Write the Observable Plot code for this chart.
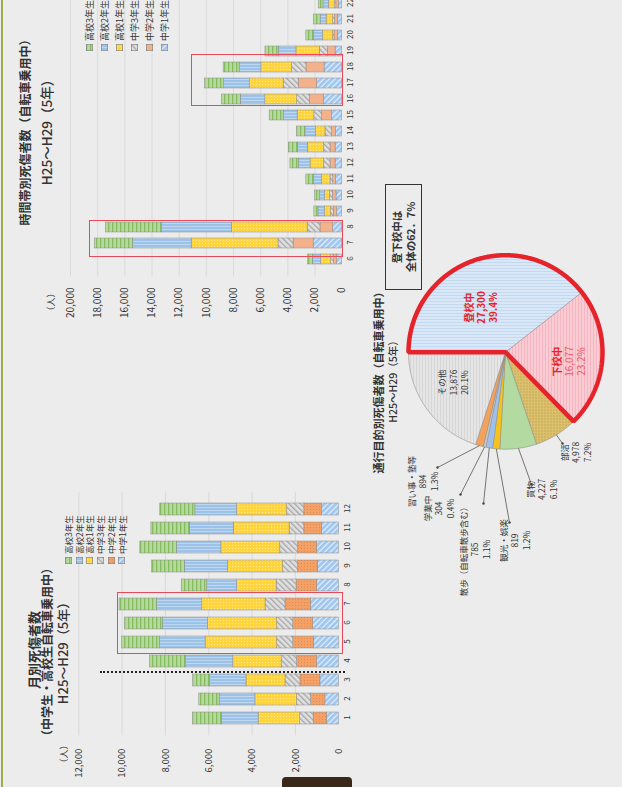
<!DOCTYPE html>
<html>
<head>
<meta charset="utf-8">
<script src="https://cdn.jsdelivr.net/npm/d3@7"></script>
<script src="https://cdn.jsdelivr.net/npm/@observablehq/plot@0.6"></script>
<style>
  html, body { margin: 0; padding: 0; width: 622px; height: 787px; overflow: hidden; background: #ebebeb; }
  #page {
    position: absolute; left: 0; top: 0; width: 787px; height: 622px;
    transform-origin: 0 0; transform: translate(0, 787px) rotate(-90deg);
    background: #ececec; font-family: "Noto Sans CJK JP", "Noto Sans", sans-serif; color: #333;
  }
  #page svg { position: absolute; overflow: visible; }
  .t { position: absolute; white-space: nowrap; transform: translate(-50%, -50%); line-height: 1; }
  .legend { position: absolute; font-size: 8.5px; line-height: 1; }
  .legend div { display: flex; align-items: center; height: 10.7px; white-space: nowrap; }
  .legend svg { position: static !important; margin-right: 3px; }
  .box { position: absolute; border: 1.6px solid #e84a5a; box-sizing: border-box; }
</style>
</head>
<body>
<svg width="0" height="0" style="position:absolute">
  <defs>
    <!-- bar fills -->
    <pattern id="hs3" width="4" height="4" patternUnits="userSpaceOnUse">
      <rect width="4" height="4" fill="#b6da9e"/><rect width="4" height="1.3" fill="#85bc60"/>
    </pattern>
    <pattern id="hs2" width="3" height="3" patternUnits="userSpaceOnUse">
      <rect width="3" height="3" fill="#9cc2e8"/><rect width="1" height="3" fill="#bed7f1"/>
    </pattern>
    <pattern id="hs1" width="3" height="3" patternUnits="userSpaceOnUse">
      <rect width="3" height="3" fill="#ffd33a"/><circle cx="1.5" cy="1.5" r="0.7" fill="#ffe98c"/>
    </pattern>
    <pattern id="jh3" width="4" height="4" patternUnits="userSpaceOnUse" patternTransform="rotate(45)">
      <rect width="4" height="4" fill="#e0e0e0"/><rect width="1.3" height="4" fill="#a6a6a6"/>
    </pattern>
    <pattern id="jh2" width="3" height="3" patternUnits="userSpaceOnUse">
      <rect width="3" height="3" fill="#f3a166"/><circle cx="1.5" cy="1.5" r="0.6" fill="#e2864a"/>
    </pattern>
    <pattern id="jh2b" width="3" height="3" patternUnits="userSpaceOnUse">
      <rect width="3" height="3" fill="#f4b28c"/>
    </pattern>
    <pattern id="jh1" width="4" height="4" patternUnits="userSpaceOnUse" patternTransform="rotate(-45)">
      <rect width="4" height="4" fill="#9fc6ee"/><rect width="1.2" height="4" fill="#e4effb"/>
    </pattern>
    <!-- pie fills -->
    <pattern id="pUp" width="3" height="3" patternUnits="userSpaceOnUse">
      <rect width="3" height="3" fill="#c3d9f0"/><rect width="1" height="3" fill="#eef4fb"/>
    </pattern>
    <pattern id="pDown" width="3" height="3" patternUnits="userSpaceOnUse">
      <rect width="3" height="3" fill="#f6b4c0"/><rect width="3" height="1" fill="#fde3e8"/>
    </pattern>
    <pattern id="pClub" width="3" height="3" patternUnits="userSpaceOnUse">
      <rect width="3" height="3" fill="#dcc170"/><circle cx="1.5" cy="1.5" r="0.7" fill="#b8983e"/>
    </pattern>
    <pattern id="pOther" width="3" height="3" patternUnits="userSpaceOnUse">
      <rect width="3" height="3" fill="#d6d6d6"/><rect width="3" height="1" fill="#f4f4f4"/>
    </pattern>
  </defs>
</svg>
<div id="page"></div>
<script>
const FONT = '"Noto Sans CJK JP", "Noto Sans", sans-serif';

// ---- 月別死傷者数（中学生・高校生 自転車乗用中） ----
const months = [1, 2, 3, 4, 5, 6, 7, 8, 9, 10, 11, 12];
const grades = ["中学1年生", "中学2年生", "中学3年生", "高校1年生", "高校2年生", "高校3年生"];
const monthJH1 = [540, 620, 850, 1000, 1150, 1180, 1280, 1000, 970, 1000, 770, 770];
const monthJH2 = [620, 660, 920, 920, 950, 920, 1180, 950, 910, 880, 820, 820];
const monthJH3 = [620, 650, 690, 720, 740, 740, 920, 920, 690, 820, 680, 800];
const monthHS1 = [1920, 1920, 1800, 2230, 3310, 3200, 2920, 1820, 2540, 2720, 2580, 2310];
const monthHS2 = [1690, 1650, 1690, 2200, 2110, 2080, 2080, 1380, 2000, 2050, 2030, 1920];
const monthHS3 = [1340, 940, 770, 1650, 1740, 1750, 1740, 1180, 1510, 1690, 1770, 1620];
const monthTicks = [0, 2000, 4000, 6000, 8000, 10000, 12000];

// ---- 時間帯別死傷者数（自転車乗用中） ----
const hours = [6, 7, 8, 9, 10, 11, 12, 13, 14, 15, 16, 17, 18, 19, 20, 21, 22];
const hourJH1 = [370, 2100, 660, 370, 420, 440, 490, 490, 440, 740, 1350, 1850, 1300, 490, 320, 320, 250];
const hourJH2 = [220, 1480, 940, 250, 260, 220, 370, 370, 300, 740, 1030, 1350, 1330, 570, 250, 220, 180];
const hourJH3 = [220, 1110, 940, 200, 220, 200, 490, 490, 490, 570, 940, 1110, 1060, 590, 100, 120, 100];
const hourHS1 = [740, 6390, 5580, 450, 370, 620, 980, 1180, 690, 1230, 2340, 2460, 2260, 1720, 740, 490, 450];
const hourHS2 = [590, 4310, 5170, 480, 370, 620, 860, 740, 790, 1030, 1800, 1920, 1600, 1300, 690, 440, 400];
const hourHS3 = [370, 2830, 4110, 300, 370, 540, 620, 660, 620, 1030, 1400, 1400, 1180, 980, 540, 490, 350];
const hourTicks = [0, 2000, 4000, 6000, 8000, 10000, 12000, 14000, 16000, 18000, 20000];

// ---- 通行目的別死傷者数（自転車乗用中） ----
const purposes = ["登校中", "下校中", "部活", "買物", "観光・娯楽", "散歩（自転車散歩含む）", "学業中", "習い事・塾等", "その他"];
const purposeCounts = [27300, 16077, 4978, 4227, 819, 785, 304, 894, 13876];
const purposeShares = [39.4, 23.2, 7.2, 6.1, 1.2, 1.1, 0.4, 1.3, 20.1];

// fills per series
const monthFills = ["url(#jh1)", "url(#jh2)", "url(#jh3)", "url(#hs1)", "url(#hs2)", "url(#hs3)"];
const hourFills = ["url(#jh1)", "url(#jh2b)", "url(#jh3)", "url(#hs1)", "url(#hs2)", "url(#hs3)"];
const purposeFills = ["url(#pUp)", "url(#pDown)", "url(#pClub)", "#b3daa0", "#f6c21c", "#9ec0ea", "#c9c9c9", "#f4a15c", "url(#pOther)"];

const page = document.getElementById("page");

function place(node, left, top) {
  node.style.left = left + "px";
  node.style.top = top + "px";
  page.appendChild(node);
  return node;
}
function text(str, cx, cy, size, weight, color) {
  const d = document.createElement("div");
  d.className = "t";
  d.textContent = str;
  d.style.fontSize = size + "px";
  d.style.fontWeight = weight || 400;
  if (color) d.style.color = color;
  return place(d, cx, cy);
}
function legend(left, top, fills, rowH, size) {
  const wrap = document.createElement("div");
  wrap.className = "legend";
  wrap.style.fontSize = size + "px";
  grades.map((g, i) => ({g, f: fills[i]})).reverse().forEach(({g, f}) => {
    const row = document.createElement("div");
    row.style.height = rowH + "px";
    row.innerHTML = `<svg width="7" height="7"><rect x="0.3" y="0.3" width="6.4" height="6.4" fill="${f}" stroke="#7a7a7a" stroke-width="0.6"/></svg><span>${g}</span>`;
    wrap.appendChild(row);
  });
  return place(wrap, left, top);
}
function box(l, t, w, h) {
  const d = document.createElement("div");
  d.className = "box";
  d.style.width = w + "px";
  d.style.height = h + "px";
  return place(d, l, t);
}

const toRows = (keys, series) =>
  series.flatMap((vals, gi) => keys.map((k, i) => ({key: k, grade: grades[gi], value: vals[i]})));

// page frame details
const edge = document.createElement("div");
edge.style.cssText = "position:absolute;width:787px;height:2px;background:#9aae4c;";
place(edge, 0, 1);
const tab = document.createElement("div");
tab.style.cssText = "position:absolute;width:10px;height:70px;background:#3a2919;border-radius:0 4px 4px 0;";
place(tab, 0, 282);

// ---------- monthly chart ----------
const monthRows = toRows(months, [monthJH1, monthJH2, monthJH3, monthHS1, monthHS2, monthHS3]);
const monthly = Plot.plot({
  width: 310, height: 362,
  marginLeft: 51.7, marginRight: 14.7, marginTop: 78.3, marginBottom: 23.7,
  style: {background: "transparent", fontFamily: FONT, color: "#333", overflow: "visible"},
  x: {type: "band", domain: months, padding: 0.35},
  y: {domain: [0, 12000]},
  color: {domain: grades, range: monthFills},
  marks: [
    Plot.ruleY(monthTicks.slice(1), {stroke: "#d4d4d4", strokeWidth: 0.8}),
    Plot.barY(monthRows, {x: "key", y: "value", fill: "grade", order: grades, stroke: "#8a8a8a", strokeWidth: 0.5}),
    Plot.axisY({ticks: monthTicks, tickFormat: d3.format(","), tickSize: 0, tickPadding: 14, fontSize: 9.5, label: null}),
    Plot.axisX({tickSize: 0, tickPadding: 5.9, fontSize: 8, label: null})
  ]
});
place(monthly, 0, 0);
text("（人）", 33, 63, 9);
text("月別死傷者数", 137, 33, 13, 700);
text("（中学生・高校生自転車乗用中）", 135, 47, 12, 700);
text("H25～H29（5年）", 137, 62, 13, 500);
legend(223, 63, monthFills, 10.7, 8.5);
box(133, 117, 62, 226);
const split = document.createElement("div");
split.style.cssText = "position:absolute;width:0;height:245px;border-left:2.5px dotted #222;";
place(split, 113.5, 100);

// ---------- hourly chart ----------
const hourRows = toRows(hours, [hourJH1, hourJH2, hourJH3, hourHS1, hourHS2, hourHS3]);
const hourly = Plot.plot({
  width: 368, height: 362,
  marginLeft: 70.7, marginRight: 5.8, marginTop: 70, marginBottom: 20.3,
  style: {background: "transparent", fontFamily: FONT, color: "#333", overflow: "visible"},
  x: {type: "band", domain: hours, padding: 0.35},
  y: {domain: [0, 20000]},
  color: {domain: grades, range: hourFills},
  marks: [
    Plot.ruleY(hourTicks.slice(1), {stroke: "#d6d6d6", strokeWidth: 0.8}),
    Plot.barY(hourRows, {x: "key", y: "value", fill: "grade", order: grades, stroke: "#8a8a8a", strokeWidth: 0.5}),
    Plot.axisY({ticks: hourTicks, tickFormat: d3.format(","), tickSize: 0, tickPadding: 11.7, fontSize: 10, label: null}),
    Plot.axisX({tickSize: 0, tickPadding: 5.5, fontSize: 8, label: null})
  ]
});
place(hourly, 440, 0);
text("（人）", 485, 50, 9);
text("時間帯別死傷者数（自転車乗用中）", 657.5, 25, 12, 700);
text("H25～H29（5年）", 658, 47, 13.5, 500);
legend(736, 82, hourFills, 15, 9);
box(530, 89, 37, 254);
box(681, 191, 52, 152);

// ---------- purpose pie ----------
const R = 97, CX = 434.3, CY = 505;          // pie radius and centre on the page
const ux = px => (px - CX) / R, uy = py => (CY - py) / R;
const total = d3.sum(purposeCounts);
let run = 0;
const slices = purposes.map((name, i) => {
  const a0 = run / total;
  run += purposeCounts[i];
  return {name, a0, a1: run / total, count: purposeCounts[i], share: purposeShares[i]};
});
function wedge(key, a0, a1) {
  const pts = [{key, x: 0, y: 0}];
  const n = Math.max(2, Math.ceil((a1 - a0) * 720));
  for (let k = 0; k <= n; k++) {
    const t = 2 * Math.PI * (a0 + (a1 - a0) * k / n);
    pts.push({key, x: Math.sin(t), y: Math.cos(t)});
  }
  return pts;
}
const wedgePts = slices.flatMap(s => wedge(s.name, s.a0, s.a1));
const outlinePts = wedge("登下校中", 0, slices[1].a1);

// label anchors on the page (text block centres) and leader ends
const labelAt = {
  "登校中": [479, 480.5], "下校中": [425, 568.5], "部活": [334, 575], "買物": [297, 541],
  "観光・娯楽": [246, 514], "散歩（自転車散歩含む）": [237, 474], "学業中": [278, 438],
  "習い事・塾等": [305, 422], "その他": [404, 452.5]
};
const leaderEnd = {
  "部活": [343, 562], "買物": [302, 531], "観光・娯楽": [264, 509],
  "散歩（自転車散歩含む）": [283, 483], "学業中": [292, 460], "習い事・塾等": [319, 437]
};
const mid = s => 2 * Math.PI * (s.a0 + s.a1) / 2;
const leaders = slices.filter(s => leaderEnd[s.name]).map(s => ({
  x1: Math.sin(mid(s)), y1: Math.cos(mid(s)),
  x2: ux(leaderEnd[s.name][0]), y2: uy(leaderEnd[s.name][1])
}));
const fmt = d3.format(",");
const lbl = s => `${s.name}\n${fmt(s.count)}\n${s.share.toFixed(1)}%`;
const up = slices.filter(s => s.name === "登校中");
const down = slices.filter(s => s.name === "下校中");
const outside = slices.filter(s => !(s.name === "登校中" || s.name === "下校中"));
const at = s => ({x: ux(labelAt[s.name][0]), y: uy(labelAt[s.name][1])});

const pie = Plot.plot({
  width: 787, height: 622, margin: 0,
  style: {background: "transparent", fontFamily: FONT, color: "#333", overflow: "visible"},
  x: {domain: [-CX / R, (787 - CX) / R], axis: null},
  y: {domain: [-(622 - CY) / R, CY / R], axis: null},
  color: {domain: purposes, range: purposeFills},
  marks: [
    Plot.line(wedgePts, {x: "x", y: "y", z: "key", fill: "key", stroke: "#8c8c8c", strokeWidth: 0.6, curve: "linear-closed"}),
    Plot.line(outlinePts, {x: "x", y: "y", stroke: "#e5232b", strokeWidth: 4.5, curve: "linear-closed", strokeLinejoin: "miter"}),
    Plot.link(leaders, {x1: "x1", y1: "y1", x2: "x2", y2: "y2", stroke: "#555", strokeWidth: 0.8}),
    Plot.dot(leaders, {x: "x2", y: "y2", r: 1.2, fill: "#444"}),
    Plot.text(up, {x: s => at(s).x, y: s => at(s).y, text: lbl,
      fill: "#e5232b", fontSize: 10, fontWeight: 700, lineHeight: 1.2}),
    Plot.text(down, {x: s => at(s).x, y: s => at(s).y, text: s => `${s.name}\n \n `,
      fill: "#e5232b", fontSize: 10, fontWeight: 700, lineHeight: 1.2}),
    Plot.text(down, {x: s => at(s).x, y: s => at(s).y, text: s => ` \n${fmt(s.count)}\n${s.share.toFixed(1)}%`,
      fill: "#ee5a68", fontSize: 10, lineHeight: 1.2}),
    Plot.text(outside, {x: s => at(s).x, y: s => at(s).y, text: lbl,
      fill: "#333", fontSize: 8.5, lineHeight: 1.35})
  ]
});
place(pie, 0, 0);
text("通行目的別死傷者数（自転車乗用中）", 407, 378, 11, 700);
text("H25～H29（5年）", 408, 393, 10.5, 500);

const callout = document.createElement("div");
callout.style.cssText = "position:absolute;width:106px;height:37px;border:1.2px solid #333;box-sizing:border-box;display:flex;flex-direction:column;justify-content:center;align-items:center;font-size:10.5px;font-weight:700;line-height:1.25;";
callout.innerHTML = "<div>登下校中は</div><div>全体の62．7%</div>";
place(callout, 497, 385);
</script>
</body>
</html>
